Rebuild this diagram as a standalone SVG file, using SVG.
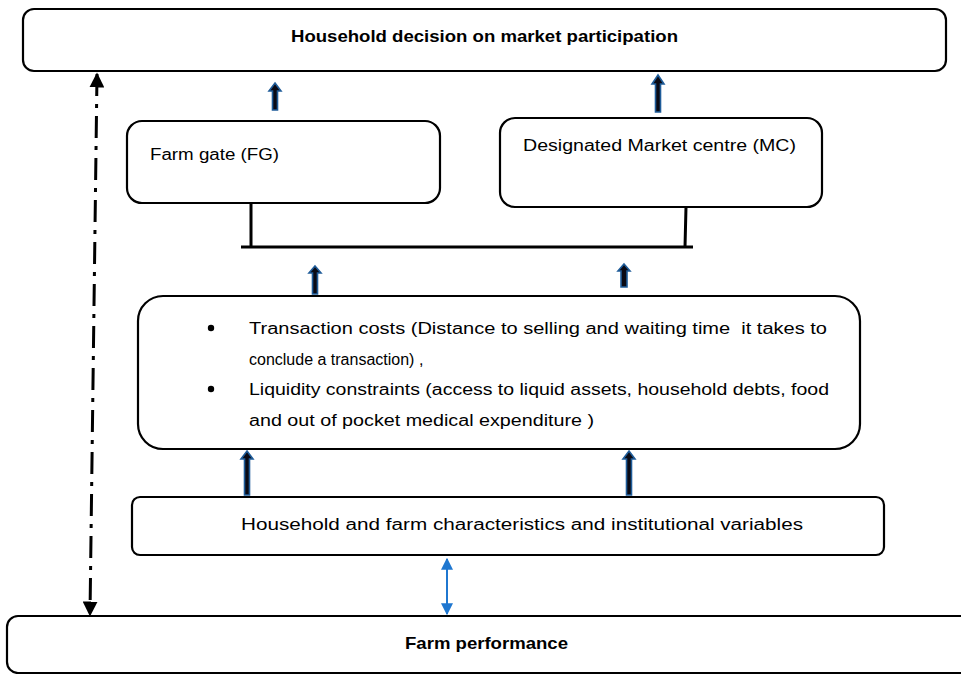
<svg xmlns="http://www.w3.org/2000/svg" width="961" height="674" viewBox="0 0 961 674">
<style>
.box{fill:#fff;stroke:#000;stroke-width:2.2}
.t{font-family:"Liberation Sans",Arial,sans-serif;font-size:16px;fill:#000}
.b{font-weight:bold;font-size:17px}
.blk{fill:#0a0a14;stroke:#1f5c99;stroke-width:1.6;stroke-linejoin:miter}
.ln{stroke:#000;stroke-width:3;fill:none}
</style>
<defs>
<marker id="bh" viewBox="0 0 10 10" refX="9" refY="5" markerWidth="5" markerHeight="5" orient="auto-start-reverse" markerUnits="strokeWidth"><path d="M0,0 L10,5 L0,10 z" fill="#000"/></marker>
<marker id="uh" viewBox="0 0 10 10" refX="9" refY="5" markerWidth="6" markerHeight="6" orient="auto-start-reverse" markerUnits="strokeWidth"><path d="M0,0 L10,5 L0,10 z" fill="#1f77d0"/></marker>
</defs>
<rect width="961" height="674" fill="#fff"/>
<g id="decision"><rect class="box" x="23" y="9" width="923" height="62" rx="11"/><text class="t b" x="484.5" y="42" text-anchor="middle" textLength="387" lengthAdjust="spacingAndGlyphs">Household decision on market participation</text></g>
<g id="farmgate"><rect class="box" x="127" y="121" width="313" height="82" rx="15"/><text class="t" x="150" y="160" textLength="129" lengthAdjust="spacingAndGlyphs">Farm gate (FG)</text></g>
<g id="market"><rect class="box" x="500" y="118" width="322" height="89" rx="15"/><text class="t" x="523" y="151" textLength="273" lengthAdjust="spacingAndGlyphs">Designated Market centre (MC)</text></g>
<g id="constraints"><rect class="box" x="138" y="296" width="722" height="153" rx="25"/>
<circle cx="211" cy="328" r="3.2" fill="#000"/><circle cx="211" cy="389" r="3.2" fill="#000"/>
<text class="t" x="249" y="334" textLength="578" lengthAdjust="spacingAndGlyphs" xml:space="preserve">Transaction costs (Distance to selling and waiting time  it takes to</text>
<text class="t" x="249" y="365">conclude a transaction) ,</text>
<text class="t" x="249" y="395" textLength="580" lengthAdjust="spacingAndGlyphs">Liquidity constraints (access to liquid assets, household debts, food</text>
<text class="t" x="249" y="426" textLength="345" lengthAdjust="spacingAndGlyphs">and out of pocket medical expenditure )</text>
</g>
<g id="characteristics"><rect class="box" x="132" y="497" width="752" height="58" rx="8"/><text class="t" x="241" y="530" textLength="562" lengthAdjust="spacingAndGlyphs">Household and farm characteristics and institutional variables</text></g>
<g id="performance"><rect class="box" x="7" y="616" width="970" height="57" rx="11"/><text class="t b" x="486.5" y="649" text-anchor="middle" textLength="163" lengthAdjust="spacingAndGlyphs">Farm performance</text></g>
<g id="connectors">
<path class="ln" d="M251,203 V247 M686,207 L685,247 M241,247 H693" stroke-width="2.6"/>
<path class="blk" d="M275,83 L281,91 L277.5,91 L277.5,110 L272.5,110 L272.5,91 L269,91 Z"/>
<path class="blk" d="M658,75 L664,84 L660.5,84 L660.5,112 L655.5,112 L655.5,84 L652,84 Z"/>
<path class="blk" d="M315,266 L321,273 L317.5,273 L317.5,294 L312.5,294 L312.5,273 L309,273 Z"/>
<path class="blk" d="M624,264 L630,271 L627,271 L627,287 L621,287 L621,271 L618,271 Z"/>
<path class="blk" d="M247,451 L253,459 L249.5,459 L249.5,495 L244.5,495 L244.5,459 L241,459 Z"/>
<path class="blk" d="M629,451 L635,459 L631.5,459 L631.5,495 L626.5,495 L626.5,459 L623,459 Z"/>
<line x1="97" y1="74" x2="90" y2="615" stroke="#000" stroke-width="3" stroke-dasharray="22,8,4,8" marker-start="url(#bh)" marker-end="url(#bh)"/>
<line x1="447" y1="559" x2="447" y2="614" stroke="#1f77d0" stroke-width="2" marker-start="url(#uh)" marker-end="url(#uh)"/>
</g>
</svg>
